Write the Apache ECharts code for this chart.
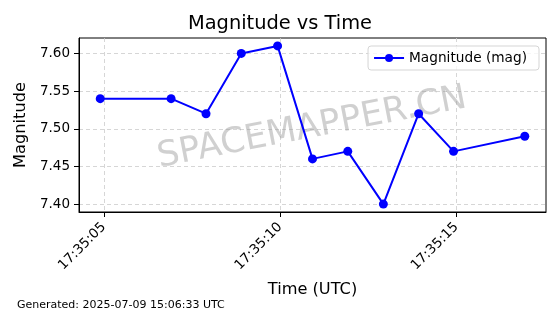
<!DOCTYPE html>
<html><head><meta charset="utf-8">
<script src="https://cdn.jsdelivr.net/npm/echarts@6/dist/echarts.min.js"></script>
<style>html,body{margin:0;padding:0;background:#fff}#c{width:560px;height:314px}</style>
</head><body><div id="c"></div>
<script>
// Data
const times = ["17:35:04.90","17:35:06.91","17:35:07.90","17:35:08.90","17:35:09.93","17:35:10.92","17:35:11.92","17:35:12.93","17:35:13.93","17:35:14.92","17:35:16.94"];
const magnitudes = [7.54, 7.54, 7.52, 7.60, 7.61, 7.46, 7.47, 7.40, 7.52, 7.47, 7.49];
const xTickLabels = ["17:35:05", "17:35:10", "17:35:15"];
const yTicks = [7.40, 7.45, 7.50, 7.55, 7.60];
const seriesName = "Magnitude (mag)";
const titleText = "Magnitude vs Time";
const footerText = "Generated: 2025-07-09 15:06:33 UTC";
const watermark = "SPACEMAPPER.CN";

const toSec = s => { const p = s.split(":"); return (+p[0])*3600 + (+p[1])*60 + (+p[2]); };
const secs = times.map(toSec);
const xTickVals = xTickLabels.map(toSec);
const labelOf = {}; xTickVals.forEach((v,i)=>labelOf[v]=xTickLabels[i]);
const pts = secs.map((s,i)=>[s, magnitudes[i]]);

const xmin0 = Math.min(...secs), xmax0 = Math.max(...secs);
const ymin0 = Math.min(...magnitudes), ymax0 = Math.max(...magnitudes);
const xm = (xmax0-xmin0)*0.05, ym = (ymax0-ymin0)*0.05;

const F = "DejaVu Sans";
const chart = echarts.init(document.getElementById('c'), null, {renderer:'canvas'});
chart.setOption({
  animation:false,
  textStyle:{fontFamily:F},
  title:{text:titleText, left:'center', top:14, padding:0, textStyle:{fontFamily:F, fontSize:19.4, fontWeight:'normal', color:'#000'}},
  grid:{left:79, right:14, top:38, bottom:102, containLabel:false, show:true, borderColor:'#000', borderWidth:1},
  legend:{show:true, right:21, top:46, itemWidth:30, itemHeight:10,
    padding:[5,12,5,5], borderColor:'#d5d5d5', borderWidth:1, borderRadius:3, backgroundColor:'rgba(255,255,255,0.8)',
    textStyle:{fontFamily:F, fontSize:13.7, color:'#000'},
    data:[seriesName]},
  xAxis:{type:'value', min:xmin0-xm, max:xmax0+xm,
    name:'Time (UTC)', nameLocation:'middle', nameGap:70, nameTextStyle:{fontFamily:F, fontSize:16.2, color:'#000'},
    axisLine:{show:true, lineStyle:{color:'#000', width:1}},
    axisTick:{show:true, inside:false, length:5, lineStyle:{color:'#000'}, customValues:xTickVals},
    axisLabel:{show:true, rotate:45, fontFamily:F, fontSize:13.5, color:'#000', margin:13, customValues:xTickVals,
      formatter:v=>labelOf[v]||''},
    splitLine:{show:true, lineStyle:{color:'#cccccc', type:[4,3], width:0.8}}},
  yAxis:{type:'value', min:ymin0-ym, max:ymax0+ym,
    name:'Magnitude', nameLocation:'middle', nameGap:48, nameTextStyle:{fontFamily:F, fontSize:16.2, color:'#000'},
    axisLine:{show:true, lineStyle:{color:'#000', width:1}},
    axisTick:{show:true, length:5, lineStyle:{color:'#000'}, customValues:yTicks},
    axisLabel:{show:true, fontFamily:F, fontSize:13.5, color:'#000', margin:9, customValues:yTicks,
      formatter:v=>v.toFixed(2)},
    splitLine:{show:true, lineStyle:{color:'#cccccc', type:[4,3], width:0.8}}},
  graphic:[
    {type:'text', left:17, top:300, style:{text:footerText, font:'11px "DejaVu Sans"', fill:'#000'}},
    {type:'text', x:312, y:128, rotation:11*Math.PI/180, z:1, silent:true,
      style:{text:watermark, font:'35px "DejaVu Sans"', fill:'rgba(150,150,150,0.45)', align:'center', verticalAlign:'middle'}}
  ],
  series:[{name:seriesName, type:'line', data:pts, z:5,
    lineStyle:{color:'#0000ff', width:2}, itemStyle:{color:'#0000ff'},
    symbol:'circle', symbolSize:9, showSymbol:true}]
});
</script></body></html>
